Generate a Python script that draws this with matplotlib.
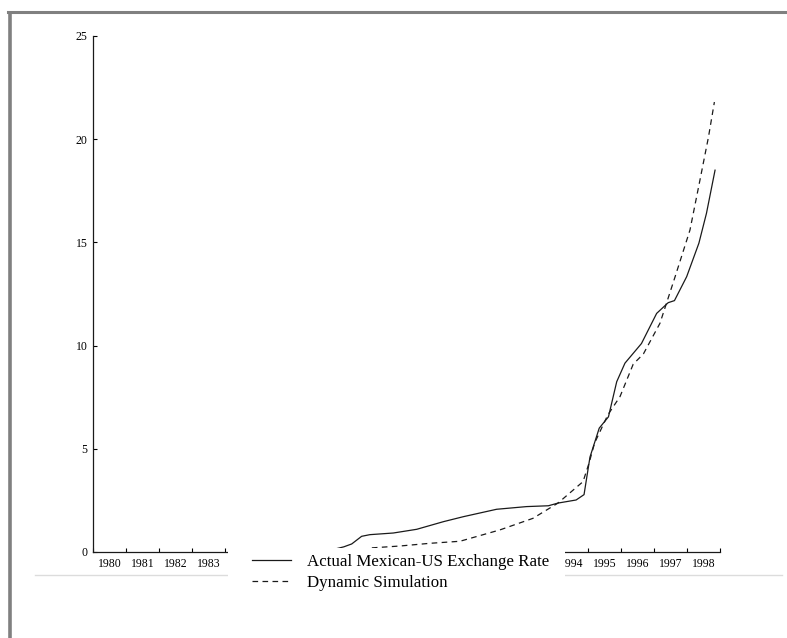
import matplotlib
matplotlib.use('Agg')
import matplotlib.pyplot as plt
from matplotlib.lines import Line2D
from matplotlib.patches import Rectangle

# Actual Mexican-US exchange rate
actual_years = [1987.35, 1987.6, 1987.84, 1988.14, 1988.39, 1989.1, 1989.81,
                1990.62, 1991.22, 1992.23, 1993.14, 1993.8, 1994.09, 1994.64,
                1994.88, 1995.06, 1995.34, 1995.62, 1995.87, 1996.12, 1996.62,
                1997.08, 1997.43, 1997.62, 1997.99, 1998.36, 1998.59, 1998.85]
actual_rate = [0.15, 0.25, 0.39, 0.76, 0.84, 0.92, 1.1,
               1.47, 1.71, 2.07, 2.2, 2.24, 2.37, 2.52,
               2.78, 4.6, 6.0, 6.55, 8.25, 9.15, 10.1,
               11.56, 12.08, 12.18, 13.34, 14.96, 16.41, 18.5]

# Dynamic simulation
sim_years = [1988.45, 1989.3, 1990.2, 1991.12, 1992.33, 1993.33, 1994.09,
             1994.85, 1995.03, 1995.2, 1995.6, 1995.97, 1996.37, 1996.68,
             1997.18, 1997.64, 1998.09, 1998.39, 1998.65, 1998.83]
sim_rate = [0.2, 0.29, 0.42, 0.52, 1.07, 1.63, 2.37,
            3.41, 4.3, 5.28, 6.64, 7.53, 9.1, 9.6,
            11.08, 13.34, 15.6, 18.0, 20.1, 21.8]

year_labels = list(range(1980, 1999))
y_ticks = [0, 5, 10, 15, 20, 25]

plt.rcParams['font.family'] = ['Liberation Serif', 'DejaVu Serif']

W, H = 787, 638
fig = plt.figure(figsize=(W / 100, H / 100), dpi=100)
ax = fig.add_axes([93 / W, 1 - 552 / H, 627 / W, 516 / H])

line_color = '#1a1a1a'
ax.plot(actual_years, actual_rate, color=line_color, linewidth=0.9,
        label='Actual Mexican-US Exchange Rate')
ax.plot(sim_years, sim_rate, color=line_color, linewidth=0.9,
        linestyle=(0, (4.5, 3.5)), label='Dynamic Simulation')

ax.set_xlim(1980, 1999)
ax.set_ylim(0, 25)

# year boundaries as ticks, labels centred in between
ax.set_xticks(range(1980, 2000))
ax.set_xticklabels([])
ax.set_xticks([y + 0.5 for y in year_labels], minor=True)
ax.set_xticklabels([str(y) for y in year_labels], minor=True, fontsize=8.5)
ax.tick_params(axis='x', which='major', direction='in', length=2.9, width=0.8)
ax.tick_params(axis='x', which='minor', length=0, pad=4)

ax.set_yticks(y_ticks)
ax.set_yticklabels([str(v) for v in y_ticks], fontsize=8.5)
ax.tick_params(axis='y', direction='in', length=3, width=0.8, pad=4)

for side in ('top', 'right'):
    ax.spines[side].set_visible(False)
for side in ('left', 'bottom'):
    ax.spines[side].set_linewidth(0.9)
    ax.spines[side].set_color('#1a1a1a')

# frame bits around the figure
fig.add_artist(Line2D([10 / W, 10 / W], [0, 1 - 13 / H], transform=fig.transFigure,
                      color='#808080', linewidth=2.6, zorder=3))
fig.add_artist(Line2D([8 / W, 1], [1 - 11.5 / H, 1 - 11.5 / H], transform=fig.transFigure,
                      color='#808080', linewidth=2.2, zorder=3))
fig.add_artist(Line2D([35 / W, 782 / W], [1 - 575 / H, 1 - 575 / H], transform=fig.transFigure,
                      color='#dcdcdc', linewidth=1.0, zorder=2))

# legend sits on a white block over the axis
fig.add_artist(Rectangle((228 / W, 1 - 600 / H), (565 - 228) / W, 52.5 / H,
                         transform=fig.transFigure, facecolor='white',
                         edgecolor='none', zorder=4))
leg = fig.legend(loc='upper left', bbox_to_anchor=(252 / W, 1 - 554 / H),
                 frameon=False, fontsize=12.2, handlelength=2.3, handletextpad=0.95,
                 labelspacing=0.3, borderpad=0, borderaxespad=0)
leg.set_zorder(5)

fig.savefig('out.png', dpi=100)
